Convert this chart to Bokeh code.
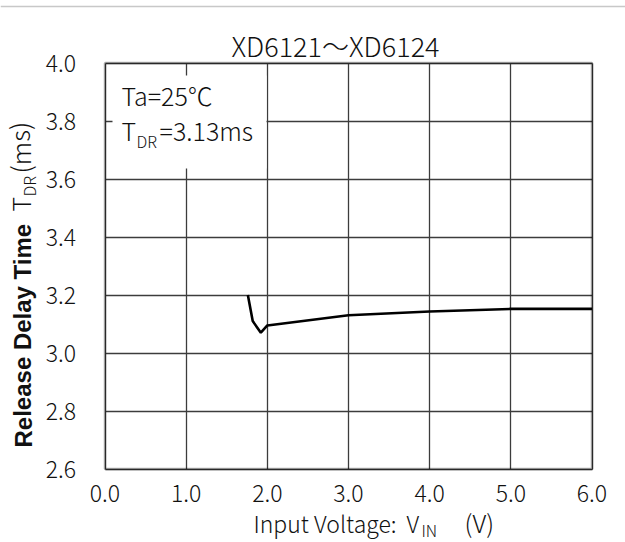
import math
from bokeh.plotting import figure
from bokeh.models import (LabelSet, BoxAnnotation, FixedTicker, Range1d, Span,
                          NumeralTickFormatter, ColumnDataSource)
from bokeh.core.properties import field
from bokeh.embed import file_html
from bokeh.resources import INLINE

# ---- data ----
title_text = "XD6121～XD6124"
vin = [1.76, 1.82, 1.92, 2.0, 3.0, 4.0, 5.0, 6.0]
tdr = [3.20, 3.11, 3.07, 3.095, 3.13, 3.143, 3.152, 3.152]
x_ticks = [0.0, 1.0, 2.0, 3.0, 4.0, 5.0, 6.0]
y_ticks = [2.6, 2.8, 3.0, 3.2, 3.4, 3.6, 3.8, 4.0]
x_min, x_max = 0.0, 6.0
y_min, y_max = 2.6, 4.0

THIN = "Noto Sans CJK JP Light, Noto Sans CJK JP"
BOLD = "Liberation Sans"

W, H = 625, 542
# chart box position in page pixels
FX0, FX1 = 104.5, 591.5
FY0, FY1 = 62.5, 468.5
kx = (x_max - x_min) / (FX1 - FX0)
ky = (y_max - y_min) / (FY1 - FY0)

def px2x(px):
    return x_min + (px - FX0) * kx

def py2y(py):
    return y_max - (py - FY0) * ky

# the plotting frame covers the whole canvas; the chart box sits inside it
p = figure(width=W, height=H,
           x_range=Range1d(px2x(0), px2x(W)), y_range=Range1d(py2y(H), py2y(0)),
           output_backend="svg", toolbar_location=None, title=None,
           min_border_left=0, min_border_right=0, min_border_top=0, min_border_bottom=0)
p.background_fill_color = "white"
p.border_fill_color = "white"
p.outline_line_color = None

for ax in (p.xaxis[0], p.yaxis[0]):
    ax.axis_line_color = None
    ax.major_tick_line_color = None
    ax.minor_tick_line_color = None
    ax.major_tick_out = 0
    ax.major_tick_in = 0
    ax.major_label_text_font = THIN
    ax.major_label_text_font_size = "23px"
    ax.major_label_text_color = "#111111"
    ax.formatter = NumeralTickFormatter(format="0.0")
p.xaxis.ticker = FixedTicker(ticks=x_ticks)
p.yaxis.ticker = FixedTicker(ticks=y_ticks)
p.xaxis[0].fixed_location = y_min
p.yaxis[0].fixed_location = x_min
p.xaxis[0].bounds = (x_min, x_max)
p.yaxis[0].bounds = (y_min, y_max)
p.xaxis.major_label_standoff = 16
p.yaxis.major_label_standoff = 29

p.xgrid.ticker = FixedTicker(ticks=x_ticks)
p.ygrid.ticker = FixedTicker(ticks=y_ticks)
GRID_COLOR, GRID_W = "#3c3c3c", 1.3
if "cross_bounds" in p.xgrid[0].properties():
    p.xgrid[0].bounds = (x_min, x_max)
    p.ygrid[0].bounds = (y_min, y_max)
    p.xgrid[0].cross_bounds = (y_min, y_max)
    p.ygrid[0].cross_bounds = (x_min, x_max)
    for g in (p.xgrid[0], p.ygrid[0]):
        g.grid_line_color = GRID_COLOR
        g.grid_line_width = GRID_W
else:
    p.xgrid.visible = False
    p.ygrid.visible = False
    p.segment(x0=x_ticks, y0=[y_min] * len(x_ticks), x1=x_ticks, y1=[y_max] * len(x_ticks),
              line_color=GRID_COLOR, line_width=GRID_W, level="underlay")
    p.segment(x0=[x_min] * len(y_ticks), y0=y_ticks, x1=[x_max] * len(y_ticks), y1=y_ticks,
              line_color=GRID_COLOR, line_width=GRID_W, level="underlay")

# white area behind the condition text
p.add_layout(BoxAnnotation(left=px2x(112), right=px2x(266), top=py2y(75), bottom=py2y(168),
                           fill_color="white", fill_alpha=1.0, line_color=None, level="underlay"))

p.line(vin, tdr, line_color="black", line_width=2.6)

# chart box
p.add_layout(BoxAnnotation(left=x_min, right=x_max, bottom=y_min, top=y_max,
                           fill_alpha=0.0, line_color="black", line_width=2.5))

# thin grey rule at the top of the page
p.add_layout(Span(location=py2y(6), dimension="width", line_color="#c8c8c8", line_width=1.5))

# ---- text pieces: (page x, page baseline y, text, px size, rotated, font, style, align) ----
pieces = [
    (335, 56, title_text, 27, False, THIN, "normal", "center"),
    (121, 105, "Ta=25℃", 25, False, THIN, "normal", "left"),
    (121, 140, "T", 25, False, THIN, "normal", "left"),
    (136, 147, "DR", 16, False, THIN, "normal", "left"),
    (159, 140, "=3.13ms", 25, False, THIN, "normal", "left"),
    (253, 532, "Input Voltage:", 23, False, THIN, "normal", "left"),
    (406, 532, "V", 23, False, THIN, "normal", "left"),
    (421, 536, "IN", 16, False, THIN, "normal", "left"),
    (464, 532, "(V)", 25, False, THIN, "normal", "left"),
    (31, 447, "Release Delay Time", 24, True, BOLD, "bold", "left"),
    (30, 211, "T", 25, True, THIN, "normal", "left"),
    (35, 196, "DR", 16, True, THIN, "normal", "left"),
    (30, 173, "(ms)", 26, True, THIN, "normal", "left"),
]

cols = dict(x=[], y=[], text=[], size=[], angle=[], font=[], style=[], align=[])
for (px, py, txt, sz, rot, fnt, sty, al) in pieces:
    cols["x"].append(px2x(px))
    cols["y"].append(py2y(py))
    cols["angle"].append(math.pi / 2 if rot else 0.0)
    cols["text"].append(txt)
    cols["size"].append(f"{sz}px")
    cols["font"].append(fnt)
    cols["style"].append(sty)
    cols["align"].append(al)

src = ColumnDataSource(cols)
labels = LabelSet(x="x", y="y", text="text", source=src,
                  text_font_size=field("size"), angle=field("angle"),
                  text_font=field("font"), text_font_style=field("style"),
                  text_align=field("align"), text_baseline="alphabetic",
                  text_color="#111111")
p.add_layout(labels)

open("out.html", "w").write(file_html(p, INLINE))
